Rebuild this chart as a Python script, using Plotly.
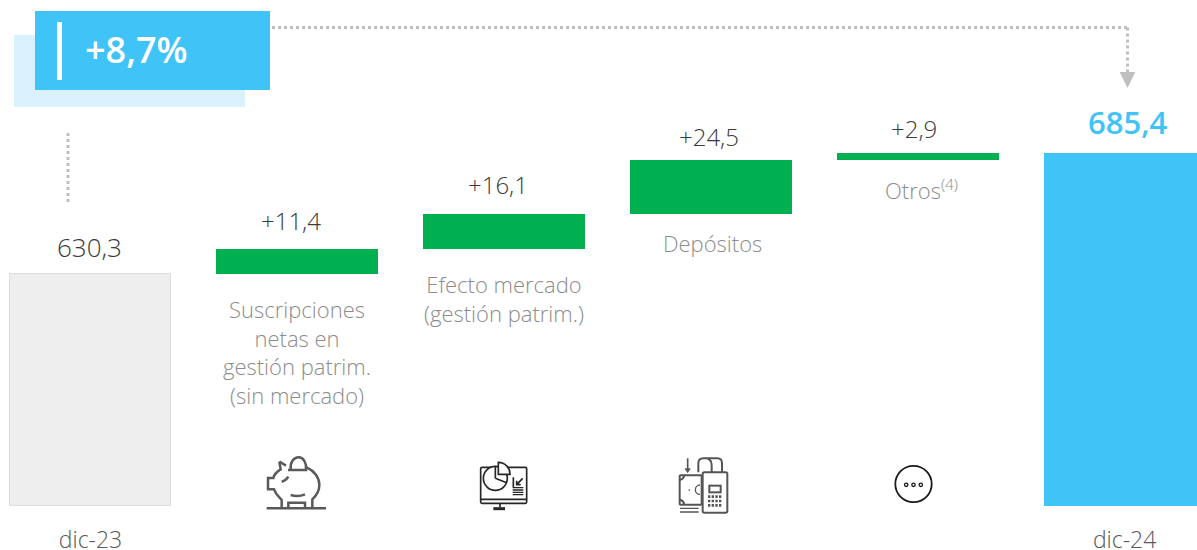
import base64
import plotly.graph_objects as go

# ---- data ----
categories = ["dic-23", "Suscripciones", "Efecto mercado", "Depósitos", "Otros", "dic-24"]
start_value = 630.3
end_value = 685.4
step_values = [11.4, 16.1, 24.5, 2.9]
value_labels = ["630,3", "+11,4", "+16,1", "+24,5", "+2,9", "685,4"]
captions = [None,
            "Suscripciones<br>netas en<br>gestión patrim.<br>(sin mercado)",
            "Efecto mercado<br>(gestión patrim.)",
            "Depósitos",
            "Otros<sup>(4)</sup>",
            None]
tick_labels = ["dic-23", "dic-24"]
growth_label = "+8,7%"

# ---- style / layout ----
W, H = 1197, 550
BOTTOM = 44
PLOT_H = H - BOTTOM
BLUE = "#40c3f6"
GREEN = "#00b050"
FONT = "Open Sans"
Y_RANGE = [524.65, 755.07]
X_RANGE = [-0.4376, 5.35]


def px(x):
    return x / W


def py(y):
    return 1 - y / PLOT_H


def svg_uri(body, vb):
    svg = f'<svg xmlns="http://www.w3.org/2000/svg" viewBox="{vb}">{body}</svg>'
    return "data:image/svg+xml;base64," + base64.b64encode(svg.encode()).decode()


x_pos = list(range(len(categories)))
bases = [Y_RANGE[0]]
heights = [start_value - Y_RANGE[0]]
running = start_value
for v in step_values:
    bases.append(running)
    heights.append(v)
    running += v
bases.append(Y_RANGE[0])
heights.append(end_value - Y_RANGE[0])
tops = [b + h for b, h in zip(bases, heights)]

fig = go.Figure()
fig.add_bar(x=x_pos, y=heights, base=bases, width=0.782,
            marker=dict(color=["#eeeeee"] + [GREEN] * 4 + [BLUE],
                        line=dict(color=["#dcdcdc"] + [GREEN] * 4 + [BLUE],
                                  width=[1, 0, 0, 0, 0, 0])),
            hoverinfo="skip", showlegend=False)

ann = []
label_yshift = [7, 10, 11, 5, 6, 8]
label_xshift = [-1, -6, -6, -2, -4, 3]
label_sizes = [26, 24, 24, 24, 24, 31]
for i, lab in enumerate(value_labels):
    last = i == len(value_labels) - 1
    ann.append(dict(x=i, y=tops[i], xref="x", yref="y", text=lab, showarrow=False,
                    xanchor="center", yanchor="bottom", yshift=label_yshift[i], xshift=label_xshift[i],
                    font=dict(family=FONT, size=label_sizes[i],
                              color=BLUE if last else "#3a3a3a",
                              weight=600 if last else 300)))
cap_yshift = [0, -18, -18, -12, -12, 0]
cap_xshift = [0, 0, 0, 2, 4, 0]
for i, cap in enumerate(captions):
    if cap:
        ann.append(dict(x=i, y=bases[i], xref="x", yref="y", text=cap, showarrow=False,
                        xanchor="center", yanchor="top", yshift=cap_yshift[i], xshift=cap_xshift[i],
                        align="center",
                        font=dict(family=FONT, size=22, color="#8c8c8c", weight=300)))
ann.append(dict(x=px(136), y=py(50), xref="paper", yref="paper", text=growth_label,
                showarrow=False, xanchor="center", yanchor="middle",
                font=dict(family=FONT, size=36, color="white", weight=600)))

dot = dict(color="#bfbfbf", width=3, dash="dot")
shapes = [
    dict(type="rect", xref="paper", yref="paper", x0=px(14), x1=px(245), y0=py(35), y1=py(107),
         fillcolor="#d9f2fd", line_width=0, layer="above"),
    dict(type="rect", xref="paper", yref="paper", x0=px(35), x1=px(270), y0=py(11), y1=py(90),
         fillcolor=BLUE, line_width=0, layer="above"),
    dict(type="rect", xref="paper", yref="paper", x0=px(57), x1=px(62), y0=py(22), y1=py(80),
         fillcolor="white", line_width=0, layer="above"),
    dict(type="line", xref="paper", yref="paper", x0=px(272), x1=px(1127), y0=py(27.5), y1=py(27.5), line=dot),
    dict(type="line", xref="paper", yref="paper", x0=px(1127.5), x1=px(1127.5), y0=py(27.5), y1=py(74), line=dot),
    dict(type="line", xref="paper", yref="paper", x0=px(68), x1=px(68), y0=py(133), y1=py(205), line=dot),
    dict(type="path", xref="paper", yref="paper",
         path=f"M {px(1119.7)} {py(72)} L {px(1135.3)} {py(72)} L {px(1127.5)} {py(88)} Z",
         fillcolor="#bfbfbf", line_width=0),
]

# decorative icons, drawn in a 3x strip covering page region x 250-750, y 440-530
strip = """
<g fill="none" stroke="#5a5a5a" stroke-width="7.5">
<path d="M50 205H228"/>
<path d="M88 65L92 88C80 95 72 105 70 114H54V148H72C78 165 88 172 95 180V205M115 205V188H165V205M187 205V178C198 168 208 155 208 135C208 112 192 92 170 82"/>
<path d="M88 65L108 77"/><path d="M122 88C120 65 132 52 146 52C160 52 170 68 168 88M114 90H172"/>
<path d="M95 125Q108 122 115 110"/><path d="M122 165Q145 172 165 163"/>
</g>
<g fill="none" stroke="#262626" stroke-width="5">
<rect x="692" y="82" width="138" height="108" rx="4"/>
<path d="M692 178H830M750 190V202"/><path d="M730 206H765" stroke-width="9"/>
<circle cx="736" cy="115" r="36" fill="#fff"/>
<path d="M736 115L736 79M736 115L770 128"/>
<path d="M745 67V103H780A35 35 0 0 0 745 67Z" fill="#fff"/>
<path d="M790 112V142M818 115L800 134M800 122V134H812"/>
<path d="M788 143H820M788 150H820M788 157H820M788 164H820" stroke-width="4"/>
</g>
<g fill="none" stroke="#555" stroke-width="6">
<path d="M1313 55V92" stroke-width="5"/><path d="M1305 86L1313 98L1321 86Z" fill="#555" stroke-width="2"/>
<rect x="1289" y="106" width="66" height="88" rx="3"/>
<path d="M1289 120Q1300 118 1303 106M1289 180Q1300 180 1303 194"/>
<path d="M1350 135A14 14 0 1 0 1350 163M1316 150H1320" stroke-width="4"/>
<path d="M1290 205H1346M1290 216H1346" stroke-width="4"/>
<path d="M1345 97V70Q1345 55 1360 55H1402Q1416 55 1416 70V116M1372 55Q1385 60 1385 75V116"/>
<rect x="1358" y="97" width="74" height="121" rx="5" fill="#fff"/>
<rect x="1378" y="137" width="34" height="20"/>
<path d="M1374 170H1416M1374 183H1416M1374 196H1416" stroke-width="8" stroke-dasharray="7 4"/>
</g>
"""
more = """
<circle cx="20" cy="20" r="18.2" fill="none" stroke="#1a1a1a" stroke-width="1.8"/>
<g fill="none" stroke="#1a1a1a" stroke-width="1.3"><circle cx="12.7" cy="20.8" r="1.7"/><circle cx="20" cy="20.8" r="1.7"/><circle cx="27.3" cy="20.8" r="1.7"/></g>
"""
images = [
    dict(source=svg_uri(strip, "0 0 1500 270"), xref="paper", yref="paper",
         x=px(250), y=py(440), sizex=500 / W, sizey=90 / PLOT_H, sizing="stretch",
         xanchor="left", yanchor="top", layer="above"),
    dict(source=svg_uri(more, "0 0 40 40"), xref="paper", yref="paper",
         x=px(893.5), y=py(464), sizex=40 / W, sizey=40 / PLOT_H, sizing="stretch",
         xanchor="left", yanchor="top", layer="above"),
]

fig.update_layout(
    width=W, height=H, margin=dict(l=0, r=0, t=0, b=BOTTOM, pad=0),
    paper_bgcolor="white", plot_bgcolor="white",
    xaxis=dict(range=X_RANGE, tickmode="array", tickvals=[x_pos[0], x_pos[-1]], ticktext=tick_labels,
               showgrid=False, zeroline=False, showline=False, ticks="", ticklabelstandoff=18,
               automargin=False,
               tickfont=dict(family=FONT, size=23, color="#595959", weight=300)),
    yaxis=dict(range=Y_RANGE, visible=False, showgrid=False, zeroline=False),
    annotations=ann, shapes=shapes, images=images, bargap=0,
)
fig.write_html("out.html", post_script="document.body.style.margin='0';",
               config=dict(displayModeBar=False))
